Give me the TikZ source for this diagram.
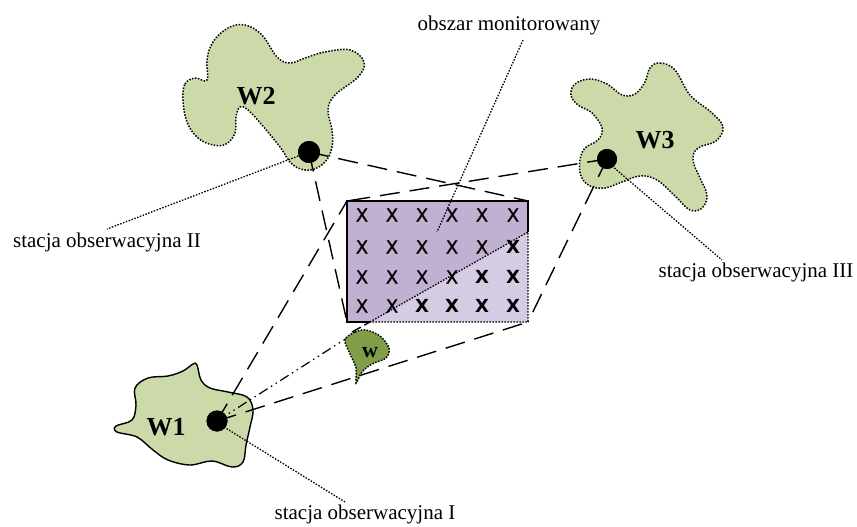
\documentclass[tikz,border=0pt]{standalone}
\usepackage{fontspec}
\setmainfont{Liberation Serif}
\newfontfamily\xfont[FakeBold=0.9]{DejaVu Sans}
\newfontfamily\xbfont{DejaVu Sans Bold}
\definecolor{lgreen}{HTML}{CCDAA9}
\definecolor{dgreen}{HTML}{7F9E47}
\definecolor{dpurple}{HTML}{C0B0D2}
\definecolor{lpurple}{HTML}{D5CBE2}
\begin{document}
\begin{tikzpicture}[x=1pt,y=-1pt,
  blobdot/.style={draw=black,line width=1.5pt,dash pattern=on 1.5pt off 1.5pt,fill=lgreen},
  sight/.style={draw=black,line width=1.4pt,dash pattern=on 20pt off 10pt},
  sightdd/.style={draw=black,line width=1.2pt,dash pattern=on 10pt off 4pt on 1.5pt off 4pt on 1.5pt off 4pt},
  leader/.style={draw=black,line width=1.3pt,dash pattern=on 1.5pt off 1.5pt},
  lbl/.style={font=\fontsize{21}{24}\selectfont,anchor=base,inner sep=0pt},
  wlbl/.style={font=\fontsize{26}{28}\selectfont\bfseries,anchor=base,inner sep=0pt},
  xm/.style={font=\xfont\fontsize{18}{18}\selectfont,inner sep=0pt},
  xb/.style={font=\xbfont\fontsize{18}{18}\selectfont,inner sep=0pt},
  station/.style={circle,fill=black,inner sep=0pt}]
\useasboundingbox (0,0) rectangle (857,527);
% regions
\draw[blobdot] plot[smooth cycle,tension=0.65] coordinates{(183,100) (185,84) (195,78) (207,80) (207,60) (213,42) (228,28) (245,25) (262,35) (277,57) (290,63) (305,58) (325,52) (350,50) (364,62) (358,77) (335,95) (328,110) (332,130) (332,147) (325,162) (310,170) (293,165) (280,147) (262,125) (248,110) (240,107) (236,117) (235,133) (226,144) (213,145) (198,138) (187,122)};
\draw[blobdot] plot[smooth cycle,tension=0.65] coordinates{(650,68) (660,63) (675,70) (690,95) (712,113) (723,127) (716,141) (698,148) (693,160) (700,178) (707,195) (702,208) (690,210) (675,196) (657,180) (640,176) (622,182) (605,188) (590,186) (581,176) (580,160) (585,148) (598,140) (602,128) (592,113) (578,105) (571,95) (575,84) (590,79) (607,84) (622,95) (635,94) (645,82)};
\draw[fill=lgreen,draw=black,line width=1.4pt] plot[smooth cycle,tension=0.6] coordinates{(197,365) (201,380) (210,388) (228,392) (247,397) (253,410) (250,427) (246,445) (243,462) (232,467) (212,461) (190,465) (168,460) (153,450) (137,437) (117,432) (116,426) (132,420) (136,405) (135,388) (148,378) (168,376) (183,371) (193,364)};
% monitored area
\fill[dpurple] (347,201) rectangle (528,322);
\fill[lpurple] (370,322) -- (528,232) -- (528,322) -- cycle;
\draw[black,line width=1.4pt] (370,322) -- (347,322) -- (347,201) -- (528,201) -- (528,232);
\draw[leader] (370,322) -- (528,232) -- (528,322) -- (370,322);
\coordinate (rtl) at (347,201);
\coordinate (rtr) at (528,201);
\coordinate (rbl) at (347,322);
\coordinate (rbr) at (528,322);
\coordinate (rdiag) at (370,322);
% x marks
\foreach \x [count=\i] in {362,392,422,452,482,513}{
  \foreach \y [count=\j] in {215,247,277,306}{
    \pgfmathtruncatemacro{\bold}{(\i==6 && \j>=2) || (\i==5 && \j>=3) || (\i>=3 && \j==4) ? 1 : 0}
    \ifnum\bold=1 \node[xb] (x\i\j) at (\x,\y) {X};\else \node[xm] (x\i\j) at (\x,\y) {X};\fi
  }}
% stations
\node[station,minimum size=21pt] (s1) at (217,421) {};
\node[station,minimum size=22pt] (s2) at (309,152) {};
\node[station,minimum size=20pt] (s3) at (607,159) {};
\coordinate (wtl) at (347,338);
\coordinate (wtop) at (352,332);
% sight lines
\draw[sight] (s1.center) -- (rtl);
\draw[sight] (s1.center) -- (rbr);
\draw[sightdd] (s1.center) -- (wtl);
\draw[sight,dash pattern=on 10pt off 4pt] (wtop) -- (rdiag);
\draw[sight] (s2.center) -- (rtr);
\draw[sight] (s2.center) -- (rbl);
\draw[sight] (s3.center) -- (rtl);
\draw[sight] (s3.center) -- (rbr);
% obstacle w
\draw[blobdot,fill=dgreen] plot[smooth cycle,tension=0.55] coordinates{(345,340) (355,332) (366,330) (380,336) (389,348) (386,358) (372,364) (362,372) (356,383) (356,368) (350,354)};
\node[wlbl,font=\fontsize{22}{24}\selectfont\bfseries] (lw) at (370,357) {w};
% redraw stations on top
\node[station,minimum size=21pt] at (s1) {};
\node[station,minimum size=22pt] at (s2) {};
\node[station,minimum size=20pt] at (s3) {};
% region labels
\node[wlbl] (lw2) at (256,104) {W2};
\node[wlbl] (lw3) at (655,148) {W3};
\node[wlbl] (lw1) at (166,435) {W1};
% labels
\node[lbl] (lobs) at (509,31) {obszar monitorowany};
\node[lbl] (l2) at (107,247) {stacja obserwacyjna II};
\node[lbl] (l3) at (756,277) {stacja obserwacyjna III};
\node[lbl] (l1) at (365,519) {stacja obserwacyjna I};
\coordinate (lobsend) at (523,40);
\coordinate (lobsin) at (437,232);
\coordinate (l2end) at (107,229);
\coordinate (l3end) at (722,260);
\coordinate (l1end) at (345,502);
\draw[leader] (lobsend) -- (lobsin);
\draw[leader] (s2.center) ++(-8,3) -- (l2end);
\draw[leader] (s3.center) ++(5,7) -- (l3end);
\draw[leader] (s1.center) ++(7,6) -- (l1end);
\end{tikzpicture}
\end{document}
